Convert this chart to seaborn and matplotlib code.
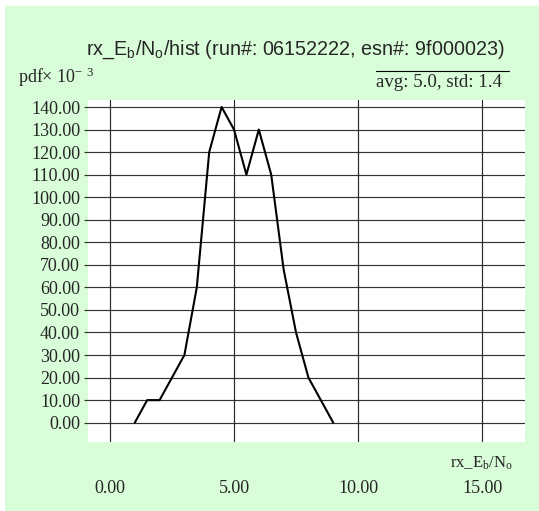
import numpy as np
import pandas as pd
import matplotlib
matplotlib.use("Agg")
import matplotlib.pyplot as plt
from matplotlib.lines import Line2D
from matplotlib.patches import Rectangle
import seaborn as sns

# histogram of rx_Eb/No (bin centre, pdf x 1e-3)
ebno = [1.0, 1.5, 2.0, 2.5, 3.0, 3.5, 3.75, 4.0, 4.5, 5.0, 5.5, 6.0, 6.5, 7.0, 7.5, 8.0, 8.5, 9.0]
pdf = [0, 10, 10, 20, 30, 60, 90, 120, 140, 130, 110, 130, 110, 68, 40, 20, 10, 0]

x_ticks = [0, 5, 10, 15]
y_ticks = list(range(0, 150, 10))

title = "rx_E$_b$/N$_o$/hist (run#: 06152222, esn#: 9f000023)"
stats_text = "avg: 5.0, std: 1.4"

sns.set_style("white")
plt.rcParams["mathtext.default"] = "regular"
serif = ["Liberation Serif", "DejaVu Serif"]
sans = ["Liberation Sans", "DejaVu Sans"]

df = pd.DataFrame({"ebno": ebno, "pdf": pdf})

fig = plt.figure(figsize=(5.39, 5.11), dpi=100)
fig.patches.append(Rectangle((0.0093, 0), 1, 0.988, transform=fig.transFigure,
                             facecolor="#d8fdd8", edgecolor="none", zorder=-10))
ax = fig.add_axes([0.164, 0.1358, 0.810, 0.668])
ax.set_facecolor("white")

for v in y_ticks:
    ax.axhline(v, color="0.2", lw=0.85, zorder=1)
for v in x_ticks:
    ax.axvline(v, color="0.15", lw=0.85, zorder=1)

sns.lineplot(data=df, x="ebno", y="pdf", ax=ax, color="black", lw=1.5, zorder=3)

ax.set_xlim(-0.87, 16.73)
ax.set_ylim(-8.4, 143)
ax.set_xticks(x_ticks)
ax.set_xticklabels([f"{v:.2f}" for v in x_ticks], fontfamily=serif, fontsize=13)
ax.set_yticks(y_ticks)
ax.set_yticklabels([f"{v:.2f}" for v in y_ticks], fontfamily=serif, fontsize=13)
ax.tick_params(axis="x", length=0, pad=28)
ax.tick_params(axis="y", length=3, width=0.85, color="0.2", pad=3, left=True)
for s in ax.spines.values():
    s.set_visible(False)

ax.set_xlabel("rx_E$_b$/N$_o$", fontfamily=serif, fontsize=12, ha="right", va="center")
ax.xaxis.set_label_coords(0.972, -0.064)
ax.set_ylabel("")

fig.text(0.548, 0.902, title, family=sans, fontsize=14.2, ha="center", va="center")
fig.text(0.0334, 0.849, "pdf× 10$^{-\\ 3}$", family=serif, fontsize=13, ha="left", va="center")
fig.text(0.6976, 0.838, stats_text, family=serif, fontsize=13.6, ha="left", va="center")
fig.add_artist(Line2D([0.6976, 0.9443], [0.861, 0.861], transform=fig.transFigure,
                      color="black", lw=0.8))

fig.savefig("out.png", dpi=100)
